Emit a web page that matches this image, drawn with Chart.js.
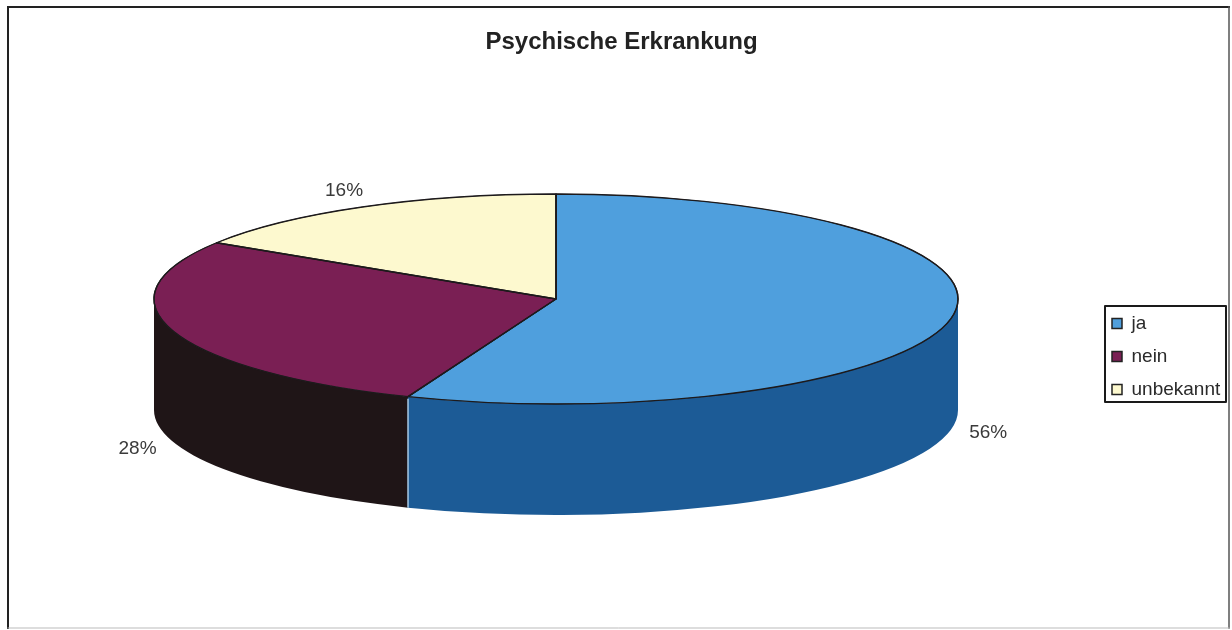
<!DOCTYPE html>
<html>
<head>
<meta charset="utf-8">
<title>Psychische Erkrankung</title>
<script src="https://cdn.jsdelivr.net/npm/chart.js@4"></script>
<style>
  body { margin: 0; background: #fff; }
  canvas { display: block; }
</style>
</head>
<body>
<canvas id="myPieChart" width="1232" height="630"></canvas>
<script>
var categories = ['ja', 'nein', 'unbekannt'];
var percentages = [56, 28, 16];

var topColors = ['#4f9fdd', '#7a1f54', '#fdf9cf'];
var sideColors = ['#1c5b96', '#1f1517', '#b5b08c'];

// the pie is a circle in chart.js, squashed into an ellipse here
var pieCenterX = 556;
var pieCenterY = 299;
var radiusX = 402;
var radiusY = 105;
var wallDepth = 111;
var squash = radiusY / radiusX;

var legendBox = { left: 1105, top: 306, right: 1226, bottom: 402 };

function slicePath(ctx, arc) {
  ctx.beginPath();
  ctx.moveTo(pieCenterX, pieCenterY);
  ctx.ellipse(pieCenterX, pieCenterY, radiusX, radiusY, 0, arc.startAngle, arc.endAngle);
  ctx.closePath();
}

var pie3d = {
  id: 'pie3d',
  afterLayout: function(chart) {
    // put the pie, title and legend where the reference has them
    var area = chart.chartArea;
    area.left = pieCenterX - 540;
    area.right = pieCenterX + 540;
    area.width = 1080;
    area.top = pieCenterY - 200;
    area.bottom = pieCenterY + 200;
    area.height = 400;
    chart.titleBlock.left = 11;
    chart.titleBlock.right = 1232;
    var legend = chart.legend;
    legend.left = 1098;
    legend.right = 1232;
    legend.top = 300;
    legend.bottom = 630;
  },
  beforeDraw: function(chart) {
    var ctx = chart.ctx;
    ctx.save();
    ctx.lineCap = 'square';
    ctx.strokeStyle = '#222';
    ctx.lineWidth = 2;
    ctx.beginPath();
    ctx.moveTo(8, 628);
    ctx.lineTo(8, 7);
    ctx.lineTo(1229, 7);
    ctx.stroke();
    ctx.strokeStyle = '#555';
    ctx.lineWidth = 1.5;
    ctx.beginPath();
    ctx.moveTo(1229, 7);
    ctx.lineTo(1229, 628);
    ctx.stroke();
    ctx.strokeStyle = '#bbb';
    ctx.lineWidth = 1;
    ctx.beginPath();
    ctx.moveTo(8, 628);
    ctx.lineTo(1229, 628);
    ctx.stroke();
    ctx.restore();
  },
  beforeDatasetsDraw: function(chart) {
    var ctx = chart.ctx;
    var arcs = chart.getDatasetMeta(0).data;
    ctx.save();
    arcs.forEach(function(arc, i) {
      var from = Math.max(arc.startAngle, 0);
      var to = Math.min(arc.endAngle, Math.PI);
      if (to <= from) return;
      ctx.beginPath();
      ctx.ellipse(pieCenterX, pieCenterY, radiusX, radiusY, 0, from, to);
      ctx.ellipse(pieCenterX, pieCenterY + wallDepth, radiusX, radiusY, 0, to, from, true);
      ctx.closePath();
      ctx.fillStyle = sideColors[i];
      ctx.fill();
    });
    // light seam between the two visible walls
    var seam = arcs[0].endAngle;
    var seamX = pieCenterX + radiusX * Math.cos(seam);
    var seamY = pieCenterY + radiusY * Math.sin(seam);
    ctx.strokeStyle = '#a9cbe6';
    ctx.lineWidth = 1.5;
    ctx.beginPath();
    ctx.moveTo(seamX, seamY + 2);
    ctx.lineTo(seamX, seamY + wallDepth);
    ctx.stroke();
    ctx.restore();
  },
  beforeDatasetDraw: function(chart) {
    var ctx = chart.ctx;
    ctx.save();
    ctx.translate(pieCenterX, pieCenterY);
    ctx.scale(1, squash);
    ctx.translate(-pieCenterX, -pieCenterY);
  },
  afterDatasetDraw: function(chart) {
    chart.ctx.restore();
  },
  afterDatasetsDraw: function(chart) {
    var ctx = chart.ctx;
    var arcs = chart.getDatasetMeta(0).data;
    ctx.save();
    ctx.strokeStyle = '#1d1a1c';
    ctx.lineWidth = 1.3;
    ctx.lineJoin = 'round';
    arcs.forEach(function(arc) {
      slicePath(ctx, arc);
      ctx.stroke();
    });

    // percent labels outside the slices
    ctx.fillStyle = '#3a3a3a';
    ctx.font = '19px "Liberation Sans", Arial, sans-serif';
    ctx.textAlign = 'center';
    ctx.textBaseline = 'middle';
    arcs.forEach(function(arc, i) {
      var mid = (arc.startAngle + arc.endAngle) / 2;
      var x = pieCenterX + (radiusX + 38) * Math.cos(mid);
      var y = pieCenterY + (radiusY + 19) * Math.sin(mid);
      if (Math.sin(mid) > 0) y += wallDepth;
      ctx.fillText(percentages[i] + '%', x, y);
    });

    ctx.strokeStyle = '#1a1a1a';
    ctx.lineWidth = 2;
    ctx.strokeRect(legendBox.left, legendBox.top, legendBox.right - legendBox.left, legendBox.bottom - legendBox.top);
    ctx.restore();
  }
};

var ctx = document.getElementById('myPieChart').getContext('2d');
var pieChart = new Chart(ctx, {
  type: 'pie',
  data: {
    labels: categories,
    datasets: [{
      data: percentages,
      backgroundColor: topColors,
      borderColor: '#222',
      borderWidth: 1.5,
      radius: radiusX,
      clip: false
    }]
  },
  options: {
    responsive: false,
    animation: false,
    layout: { padding: 0 },
    plugins: {
      title: {
        display: true,
        text: 'Psychische Erkrankung',
        color: '#222',
        font: { family: '"Liberation Sans", Arial, sans-serif', size: 24, weight: 'bold' },
        padding: { top: 28, bottom: 10 }
      },
      legend: {
        position: 'right',
        align: 'start',
        labels: {
          boxWidth: 10,
          boxHeight: 10,
          padding: 14,
          color: '#2a2a2a',
          font: { family: '"Liberation Sans", Arial, sans-serif', size: 19 }
        }
      },
      tooltip: { enabled: false }
    }
  },
  plugins: [pie3d]
});
</script>
</body>
</html>
